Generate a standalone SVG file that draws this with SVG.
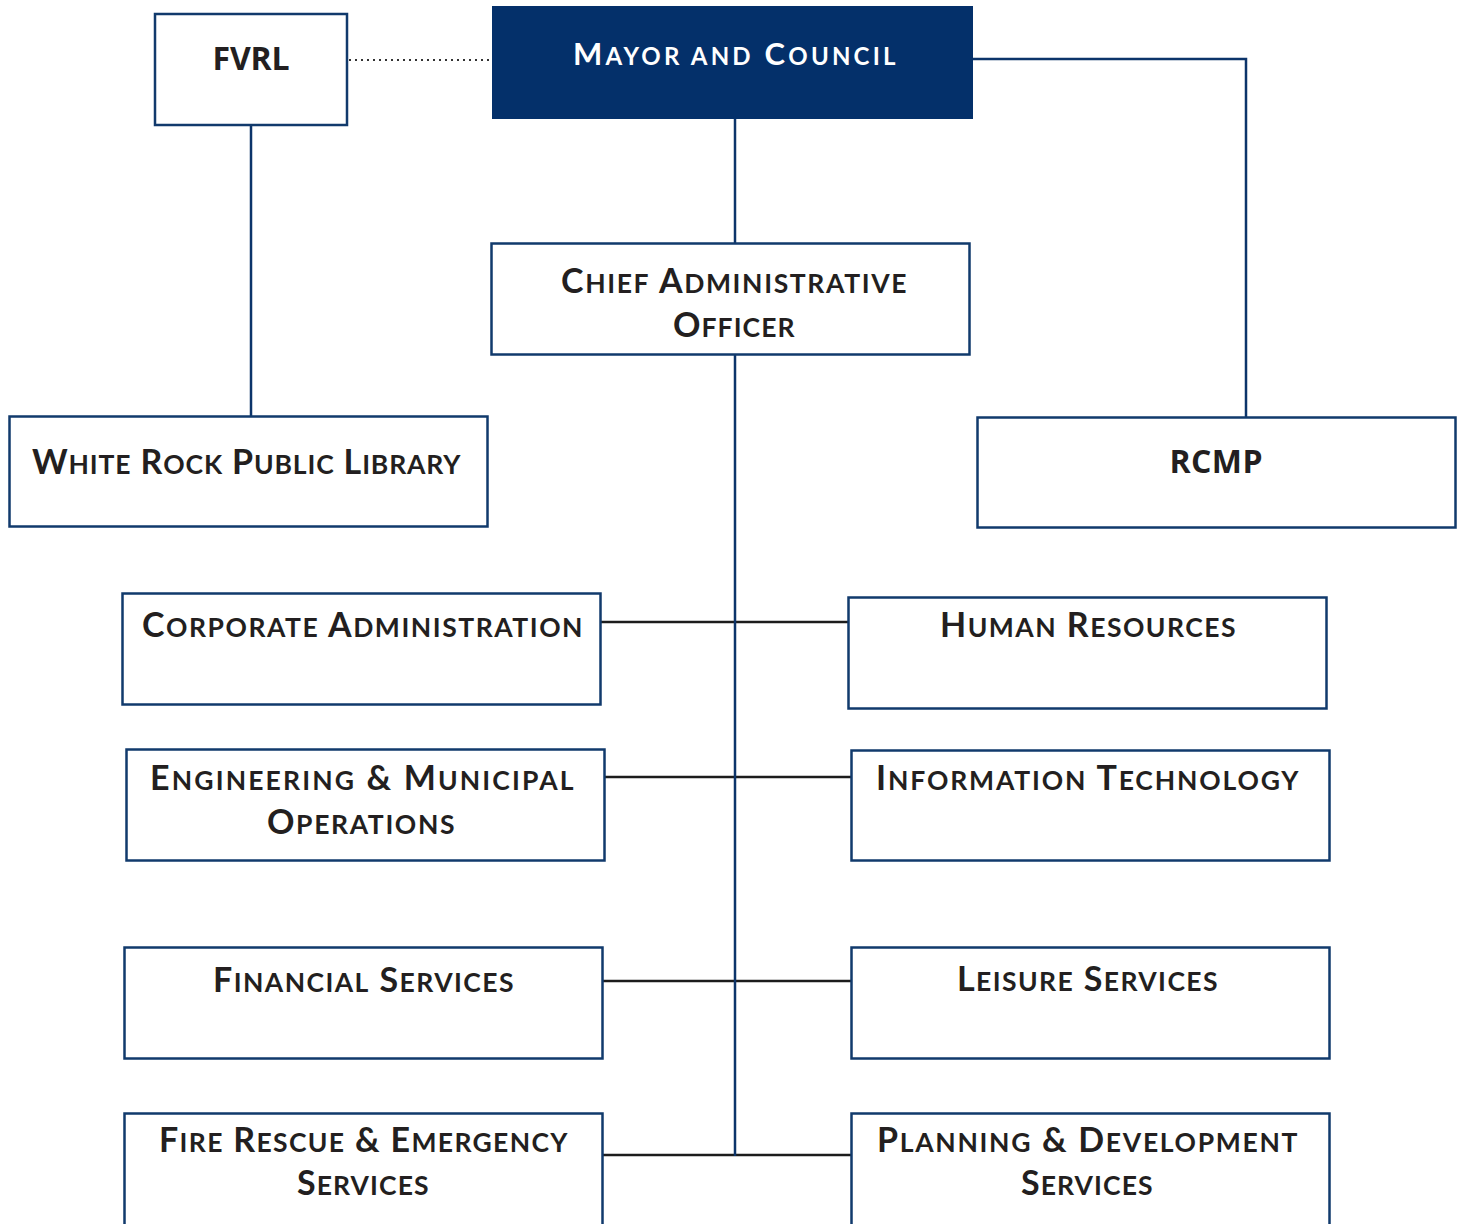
<svg xmlns="http://www.w3.org/2000/svg" width="1461" height="1224" viewBox="0 0 1461 1224">
<style>
.box{fill:#ffffff;stroke:#113a6c;stroke-width:2.5}
.boxd{fill:#04306a;stroke:#04306a;stroke-width:1}
.t{font-family:Lato,"Open Sans","Liberation Sans",sans-serif;font-weight:700;font-size:34px;fill:#231f20;text-anchor:middle;letter-spacing:2.5px}
.sc{font-size:26.5px}
.w{fill:#ffffff;font-size:31px}
.w .sc{font-size:24px}
.p{font-family:"Open Sans","Liberation Sans",sans-serif;font-weight:700;font-size:32px;fill:#231f20;text-anchor:middle}
.nv{fill:none;stroke:#0c346a;stroke-width:2.5}
.bk{fill:none;stroke:#1c1c1c;stroke-width:2.5}
.dot{fill:none;stroke:#333333;stroke-width:2;stroke-dasharray:2 4}
</style>
<rect width="1461" height="1224" fill="#ffffff"/>
<g id="connectors">
<path class="dot" d="M349 60 H492"/>
<path class="nv" d="M251 125 V416"/>
<path class="nv" d="M735 119 V243"/>
<path class="nv" d="M973 59 H1246 V417"/>
<path class="bk" d="M601 622 H848"/>
<path class="bk" d="M605 777 H851"/>
<path class="bk" d="M603 981 H851"/>
<path class="bk" d="M603 1155 H851"/>
<path class="nv" d="M735 355 V1156"/>
</g>
<g id="fvrl">
<rect class="box" x="155" y="14" width="192" height="111"/>
<text class="p" x="251" y="70" textLength="77">FVRL</text>
</g>
<g id="mayor">
<rect class="boxd" x="492.5" y="6.5" width="480" height="112"/>
<text class="t w" x="735.5" y="65" textLength="325">M<tspan class="sc">AYOR AND</tspan> C<tspan class="sc">OUNCIL</tspan></text>
</g>
<g id="cao">
<rect class="box" x="491.5" y="243.5" width="478" height="111"/>
<text class="t" x="735" y="293" textLength="348">C<tspan class="sc">HIEF</tspan> A<tspan class="sc">DMINISTRATIVE</tspan></text>
<text class="t" x="735" y="337" textLength="124">O<tspan class="sc">FFICER</tspan></text>
</g>
<g id="library">
<rect class="box" x="9.5" y="416.5" width="478" height="110"/>
<text class="t" x="247.5" y="474" textLength="431">W<tspan class="sc">HITE</tspan> R<tspan class="sc">OCK</tspan> P<tspan class="sc">UBLIC</tspan> L<tspan class="sc">IBRARY</tspan></text>
</g>
<g id="rcmp">
<rect class="box" x="977.5" y="417.5" width="478" height="110"/>
<text class="p" x="1216" y="473" textLength="93">RCMP</text>
</g>
<g id="corporate">
<rect class="box" x="122.5" y="593.5" width="478" height="111"/>
<text class="t" x="363.5" y="637" textLength="443">C<tspan class="sc">ORPORATE</tspan> A<tspan class="sc">DMINISTRATION</tspan></text>
</g>
<g id="hr">
<rect class="box" x="848.5" y="597.5" width="478" height="111"/>
<text class="t" x="1089" y="637" textLength="298">H<tspan class="sc">UMAN</tspan> R<tspan class="sc">ESOURCES</tspan></text>
</g>
<g id="engineering">
<rect class="box" x="126.5" y="749.5" width="478" height="111"/>
<text class="t" x="363" y="790" textLength="426">E<tspan class="sc">NGINEERING</tspan> &amp; M<tspan class="sc">UNICIPAL</tspan></text>
<text class="t" x="362" y="834" textLength="190">O<tspan class="sc">PERATIONS</tspan></text>
</g>
<g id="it">
<rect class="box" x="851.5" y="750.5" width="478" height="110"/>
<text class="t" x="1088.5" y="790" textLength="425">I<tspan class="sc">NFORMATION</tspan> T<tspan class="sc">ECHNOLOGY</tspan></text>
</g>
<g id="financial">
<rect class="box" x="124.5" y="947.5" width="478" height="111"/>
<text class="t" x="364.5" y="992" textLength="303">F<tspan class="sc">INANCIAL</tspan> S<tspan class="sc">ERVICES</tspan></text>
</g>
<g id="leisure">
<rect class="box" x="851.5" y="947.5" width="478" height="111"/>
<text class="t" x="1088.5" y="991" textLength="263">L<tspan class="sc">EISURE</tspan> S<tspan class="sc">ERVICES</tspan></text>
</g>
<g id="fire">
<rect class="box" x="124.5" y="1113.5" width="478" height="120"/>
<text class="t" x="364.5" y="1152" textLength="411">F<tspan class="sc">IRE</tspan> R<tspan class="sc">ESCUE</tspan> &amp; E<tspan class="sc">MERGENCY</tspan></text>
<text class="t" x="364" y="1195" textLength="134">S<tspan class="sc">ERVICES</tspan></text>
</g>
<g id="planning">
<rect class="box" x="851.5" y="1113.5" width="478" height="120"/>
<text class="t" x="1088.5" y="1152" textLength="423">P<tspan class="sc">LANNING</tspan> &amp; D<tspan class="sc">EVELOPMENT</tspan></text>
<text class="t" x="1088" y="1195" textLength="134">S<tspan class="sc">ERVICES</tspan></text>
</g>
</svg>
